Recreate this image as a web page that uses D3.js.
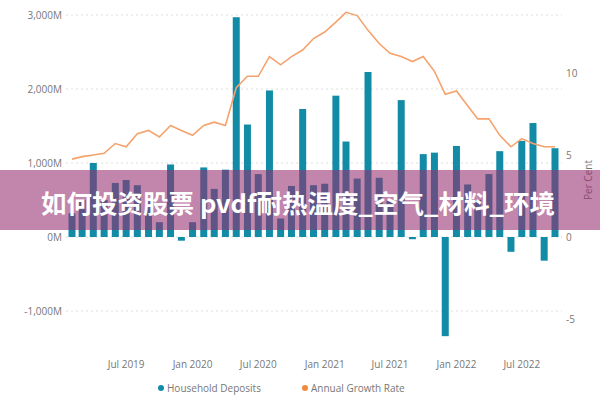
<!DOCTYPE html>
<html><head><meta charset="utf-8">
<script src="https://cdn.jsdelivr.net/npm/d3@7"></script>
<style>body{margin:0;background:#fff;font-family:"Open Sans",sans-serif}</style>
</head><body><svg id="c" width="600" height="400"></svg>
<script>
const months = d3.range(45).map(i => new Date(2019, 1 + i, 1));
const deposits = [320,500,1000,500,730,770,700,500,200,980,-50,200,940,650,910,2970,1520,850,1980,250,690,
  1730,700,720,1910,1290,790,2230,800,500,1850,-30,1120,1140,-1340,1230,710,500,850,1160,-200,1300,1540,-320,1200];
const growth = [4.75,4.9,5.0,5.1,5.7,5.5,6.3,6.5,6.1,6.8,6.5,6.2,6.8,7.0,6.8,9.1,9.8,9.8,11.0,10.5,11.0,
  11.4,12.1,12.5,13.1,13.7,13.5,12.6,11.8,11.2,11.0,10.7,11.0,10.1,8.7,8.9,8.0,7.2,7.2,6.2,5.5,6.0,5.7,5.5,5.5];
const leftTicks = [3000,2000,1000,0,-1000];
const leftLabels = ["3,000M","2,000M","1,000M","0M","-1,000M"];
const rightTicks = [10,5,0,-5];
const xTicks = [new Date(2019,6,1),new Date(2020,0,1),new Date(2020,6,1),new Date(2021,0,1),new Date(2021,6,1),new Date(2022,0,1),new Date(2022,6,1)];
const xLabels = ["Jul 2019","Jan 2020","Jul 2020","Jan 2021","Jul 2021","Jan 2022","Jul 2022"];
const title = "如何投资股票 pvdf耐热温度_空气_材料_环境";

const svg = d3.select("#c");
const x = d3.scaleTime().domain([months[0], months[44]]).range([72, 555]);
const yL = d3.scaleLinear().domain([-1000, 3000]).range([311, 15]);
const yR = d3.scaleLinear().domain([-5, 10]).range([319, 73]);
const grey = "#777";

svg.selectAll(".g").data(leftTicks).join("line")
  .attr("x1", 66).attr("x2", 562).attr("y1", d => yL(d)).attr("y2", d => yL(d))
  .attr("stroke", "#ddd").attr("stroke-dasharray", "2,3");
svg.selectAll(".lt").data(leftTicks).join("text")
  .attr("x", 62).attr("y", d => yL(d) + 4).attr("text-anchor", "end")
  .attr("font-size", 10).attr("fill", grey).text((d, i) => leftLabels[i]);
svg.selectAll(".rt").data(rightTicks).join("text")
  .attr("x", 566).attr("y", d => yR(d) + 4).attr("font-size", 10).attr("fill", grey).text(d => d);
svg.selectAll(".xt").data(xTicks).join("text")
  .attr("x", d => x(d)).attr("y", 368).attr("text-anchor", "middle")
  .attr("font-size", 10).attr("fill", grey).text((d, i) => xLabels[i]);
svg.append("text").attr("transform", "translate(592,180) rotate(-90)").attr("text-anchor", "middle")
  .attr("font-size", 10).attr("fill", grey).text("Per Cent");

svg.selectAll(".bar").data(deposits).join("rect")
  .attr("x", (d, i) => x(months[i]) - 3.5).attr("width", 7)
  .attr("y", d => yL(Math.max(0, d))).attr("height", d => Math.abs(yL(d) - yL(0)))
  .attr("fill", "#128ca6");

svg.append("path").datum(growth)
  .attr("d", d3.line().x((d, i) => x(months[i])).y(d => yR(d)))
  .attr("fill", "none").attr("stroke", "#f5a26c").attr("stroke-width", 1.6);

const lg = svg.append("g");
lg.append("circle").attr("cx", 161).attr("cy", 388).attr("r", 3).attr("fill", "#128ca6");
lg.append("text").attr("x", 167).attr("y", 392).attr("font-size", 10).attr("fill", grey).text("Household Deposits");
lg.append("circle").attr("cx", 305).attr("cy", 388).attr("r", 3).attr("fill", "#f08a3c");
lg.append("text").attr("x", 311).attr("y", 392).attr("font-size", 10).attr("fill", grey).text("Annual Growth Rate");

svg.append("rect").attr("x", 0).attr("y", 170).attr("width", 600).attr("height", 60)
  .attr("fill", "rgb(150,45,110)").attr("opacity", 0.58);
svg.append("text").attr("x", 298).attr("y", 213).attr("text-anchor", "middle")
  .attr("font-family", "Noto Sans CJK SC").attr("font-weight", "bold").attr("font-size", 25.5)
  .attr("fill", "#fff").text(title);
</script></body></html>
